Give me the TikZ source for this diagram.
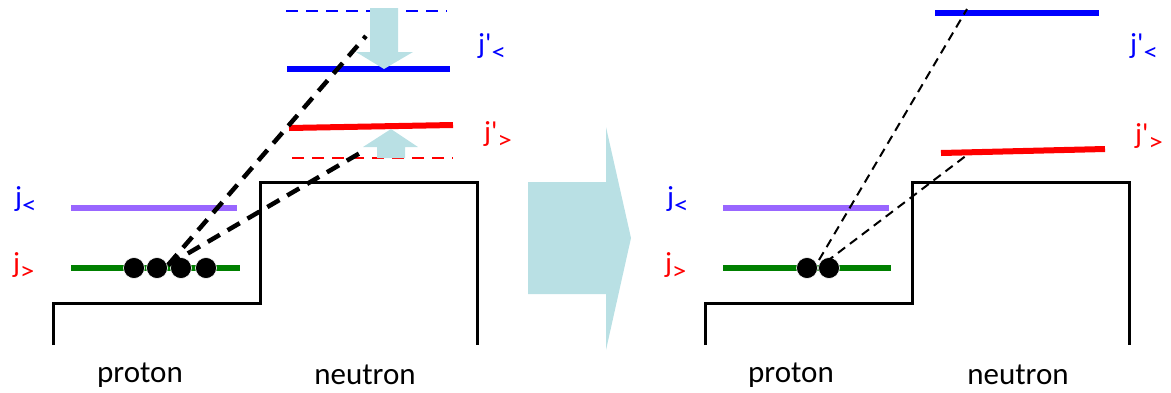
\documentclass[tikz,border=0pt]{standalone}
\usepackage{fontspec}
\setmainfont{Carlito}[Ligatures=TeXOff]
\definecolor{lvblue}{HTML}{0000FF}
\definecolor{lvred}{HTML}{FF0000}
\definecolor{lvpurple}{HTML}{9966FF}
\definecolor{lvgreen}{HTML}{008000}
\definecolor{arrowfill}{HTML}{B9E0E4}
\tikzset{
  well/.style={line width=3pt, black},
  level/.style={line width=6pt},
  dashlevel/.style={line width=2pt, dash pattern=on 12pt off 8pt},
  nucleon/.style={circle, fill=black, draw=white, line width=0.6pt, inner sep=0pt, minimum size=21pt},
  bigdash/.style={line width=4.5pt, dash pattern=on 14pt off 9pt},
  thindash/.style={line width=2pt, dash pattern=on 9pt off 6pt},
  shiftarrow/.style={fill=arrowfill, draw=none},
  lbl/.style={font=\fontsize{31}{34}\selectfont, inner sep=0pt},
  jlbl/.style={font=\fontsize{29}{32}\selectfont, inner sep=0pt, anchor=base west},
}
\newcommand{\jsub}[2]{j#1\raisebox{-7pt}{\fontsize{25}{25}\selectfont\scalebox{1.15}[1]{#2}}}
\begin{document}
\begin{tikzpicture}[x=1pt,y=-1pt]
\useasboundingbox (0,0) rectangle (1171,392);

% ---------- left panel ----------
\draw[well] (53,345) -- (53,303) -- (260,303) -- (260,182) -- (477,182) -- (477,345);
\draw[level, lvpurple] (71,208) -- (237,208);
\draw[level, lvgreen] (71,268) -- (240,268);
\node[jlbl, text=lvblue] (lA) at (15,206) {\jsub{}{<}};
\node[jlbl, text=lvred] (lB) at (13,272) {\jsub{}{>}};

% shifted neutron levels
\draw[dashlevel, lvblue] (286,11) -- (447,11);
\draw[level, lvblue] (287,69) -- (450,69);
\draw[level, lvred] (289,128) -- (453,125);
\draw[dashlevel, lvred] (292,158) -- (453,158);
\node[jlbl, text=lvblue] (lC) at (478,53) {\jsub{'}{<}};
\node[jlbl, text=lvred] (lD) at (484,141) {\jsub{'}{>}};

% shift arrows
\fill[shiftarrow] (370,8) -- (398,8) -- (398,52) -- (413,52) -- (384,69) -- (356,52) -- (370,52) -- cycle;
\fill[shiftarrow] (377,158) -- (405,158) -- (405,147) -- (418,147) -- (391,129) -- (363,147) -- (377,147) -- cycle;

% nucleons
\node[nucleon] (p1) at (134,268) {};
\node[nucleon] (p2) at (157,268) {};
\node[nucleon] (p3) at (181,268) {};
\node[nucleon] (p4) at (206,268) {};
\coordinate (s1) at (168,265);
\coordinate (t1) at (366,36);
\coordinate (t2) at (360,153);
\draw[bigdash] (s1) -- (t1);
\draw[bigdash] (s1) -- (t2);

\node[lbl] (prL) at (140,375) {proton};
\node[lbl] (neL) at (365,375) {neutron};

% ---------- transition arrow ----------
\fill[shiftarrow] (528,182) -- (606,182) -- (606,127) -- (631,238) -- (606,350) -- (606,294) -- (528,294) -- cycle;

% ---------- right panel ----------
\draw[well] (705,345) -- (705,303) -- (912,303) -- (912,182) -- (1129,182) -- (1129,345);
\draw[level, lvpurple] (723,208) -- (889,208);
\draw[level, lvgreen] (723,268) -- (891,268);
\node[jlbl, text=lvblue] (rA) at (667,206) {\jsub{}{<}};
\node[jlbl, text=lvred] (rB) at (665,272) {\jsub{}{>}};

\draw[level, lvblue] (935,13) -- (1099,13);
\draw[level, lvred] (941,153) -- (1105,149);
\node[jlbl, text=lvblue] (rC) at (1130,53) {\jsub{'}{<}};
\node[jlbl, text=lvred] (rD) at (1135,143) {\jsub{'}{>}};

\node[nucleon] (q1) at (807,268) {};
\node[nucleon] (q2) at (829,268) {};
\coordinate (u1) at (819,260);
\coordinate (u2) at (826,262);
\coordinate (v1) at (967,9);
\coordinate (v2) at (967,155);
\draw[thindash] (u1) -- (v1);
\draw[thindash] (u2) -- (v2);

\node[lbl] (prR) at (791,375) {proton};
\node[lbl] (neR) at (1018,375) {neutron};
\end{tikzpicture}
\end{document}
